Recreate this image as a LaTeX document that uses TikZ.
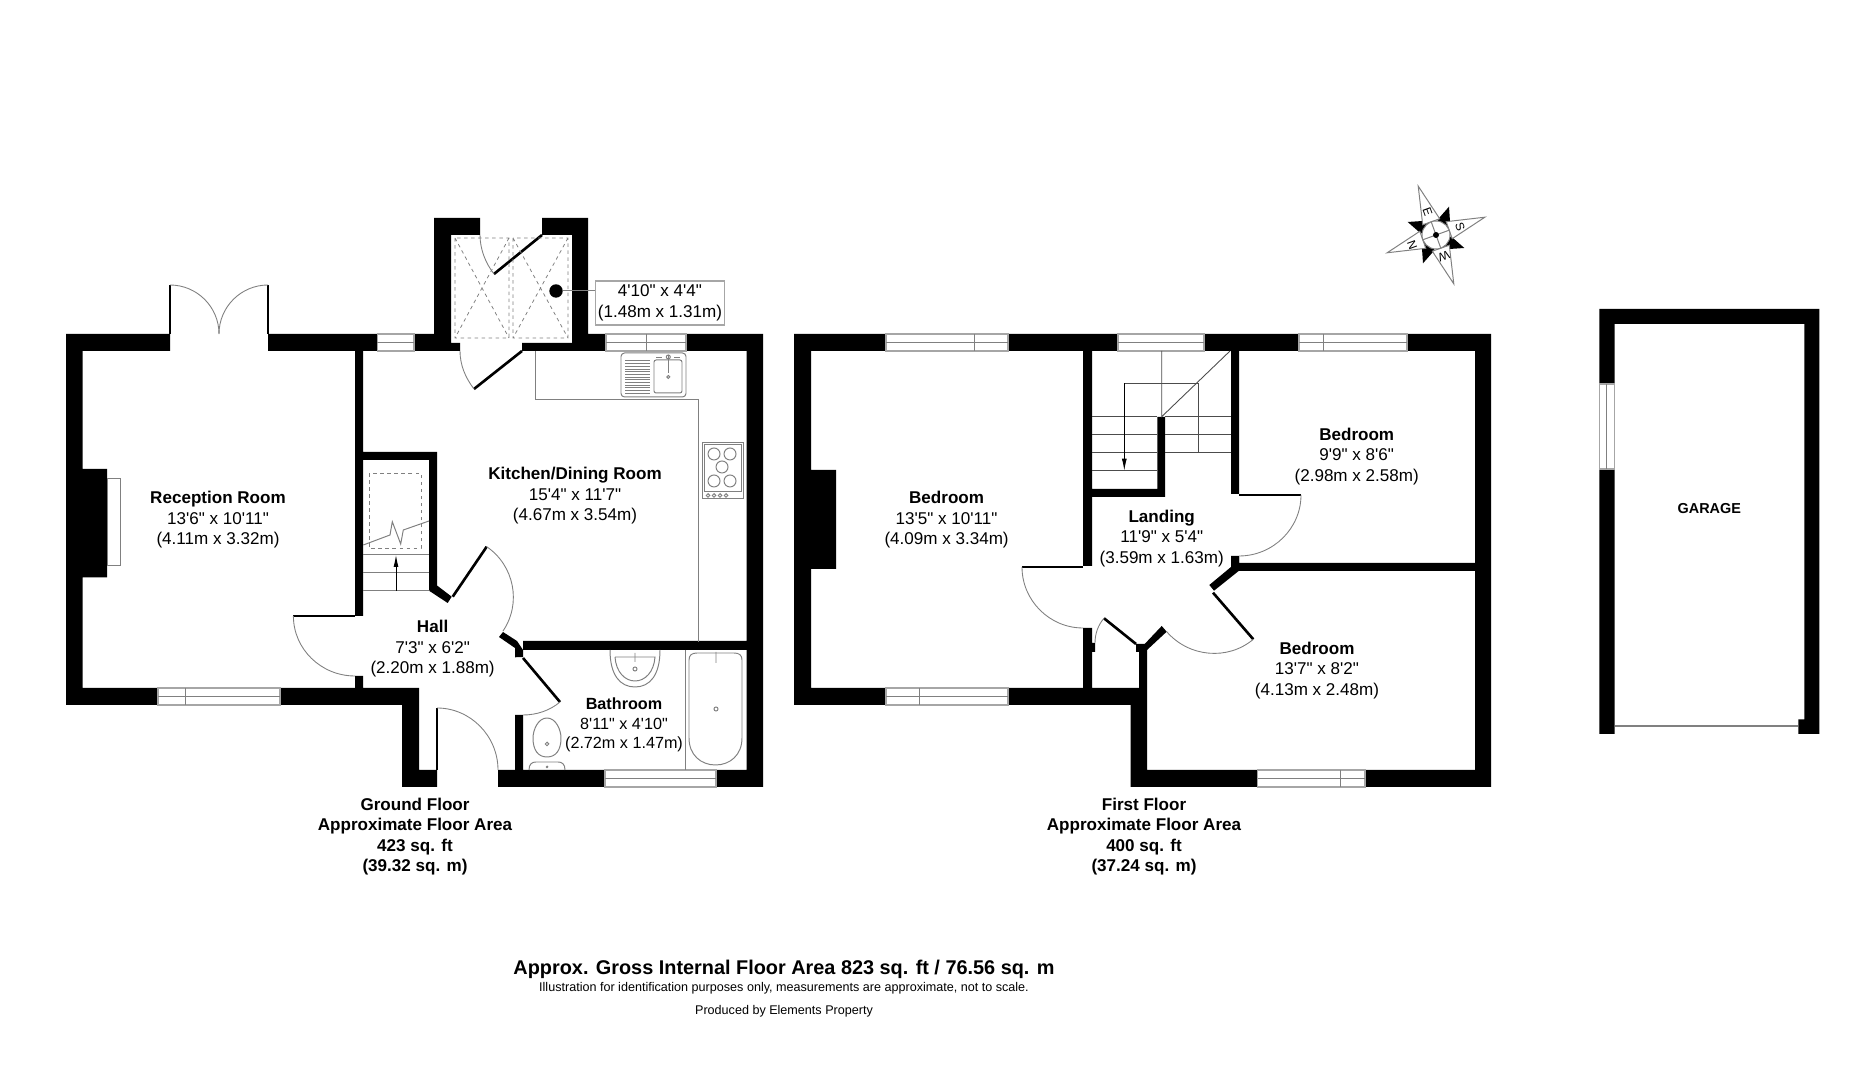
\documentclass[tikz,border=0pt]{standalone}
\usepackage{fontspec}
\setmainfont[Ligatures=TeXOff]{Liberation Sans}
\usetikzlibrary{arrows.meta}
\definecolor{linegray}{rgb}{0.5,0.5,0.5}
\definecolor{edgegray}{rgb}{0.65,0.65,0.65}
\definecolor{stairgray}{rgb}{0.3,0.3,0.3}
\tikzset{
  wall/.style={fill=black},
  wndw/.style={fill=white,draw=edgegray,line width=0.3pt},
  fitting/.style={draw=linegray,line width=0.28pt},
  stairline/.style={draw=stairgray,line width=0.25pt},
  stairarrow/.style={draw=black,line width=0.25pt,-{Latex[length=3.4pt,width=1.4pt]}},
  hidden/.style={draw=linegray,line width=0.22pt,dash pattern=on 1pt off 1pt},
  leaf/.style={draw=black,line width=0.75pt},
  swing/.style={draw=linegray,line width=0.25pt},
  room/.style={font=\fontsize{4.85}{5.85}\selectfont,align=center,inner sep=0pt},
  floornote/.style={font=\fontsize{4.85}{5.85}\selectfont\bfseries,align=center,inner sep=0pt},
  smallnote/.style={font=\fontsize{3.58}{4}\selectfont,inner sep=0pt},
  compass/.style={font=\fontsize{3.4}{4}\selectfont,inner sep=0pt}
}
\begin{document}
\begin{tikzpicture}[x=0.01cm,y=-0.01cm]
\useasboundingbox (0,0) rectangle (1869,1080);

\fill[wall] (66,334) rectangle (170,351) (268,334) rectangle (434,351) (66,334) rectangle (82.5,705)
  (66,688) rectangle (419,705) (402,688) rectangle (419,787) (402,770) rectangle (437,787)
  (498,770) rectangle (763,787) (746.5,334) rectangle (763,787) (82.5,469) rectangle (107,577.5)
  (355,351) rectangle (363,616) (355,676) rectangle (363,688) (363,452) rectangle (437,460)
  (429,452) rectangle (437,590) (523,641) rectangle (747,650) (515,715) rectangle (523,770)
  (434,218) rectangle (480,235) (434,218) rectangle (451,351) (451,343) rectangle (460,351)
  (542,218) rectangle (588,235) (572,218) rectangle (588,351) (522,343) rectangle (763,351)
  (588,334) rectangle (763,351);
\fill[wall] (429,590.7) -- (437.3,585.7) -- (451.7,596.7) -- (447.7,603) -- cycle;
\fill[wall] (503,632) -- (499,637) -- (515,648) -- (515,657.3) -- (523,657) -- (523,650) -- (517,641) -- cycle;

\draw[wndw] (377.4,334) rectangle (414,351);
\draw[fitting] (377.4,342.5) -- (414,342.5);
\draw[wndw] (606,334) rectangle (686,351);
\draw[fitting] (606,342.5) -- (686,342.5) (646,334) -- (646,351);
\draw[wndw] (158,688) rectangle (280,705);
\draw[fitting] (158,696.5) -- (280,696.5) (185,688) -- (185,705);
\draw[wndw] (605,770) rectangle (716,787);
\draw[fitting] (605,778) -- (716,778);
\draw[fitting] (107,479) rectangle (120,566);

\draw[leaf,line width=0.4pt] (170,285) -- (170,334) (268,285) -- (268,334);
\draw[swing] (170,285) .. controls (197,285) and (219,307) .. (219,334);
\draw[swing] (268,285) .. controls (241,285) and (219,307) .. (219,334);
\draw[leaf] (293.4,616) -- (355,616);
\draw[swing] (293.4,616) .. controls (293.4,649) and (321,676) .. (355,676);
\draw[leaf,line width=0.4pt] (437,708) -- (437,770);
\draw[swing] (437,708) .. controls (470.5,708) and (498,736) .. (498,770);
\draw[leaf] (452.7,596.7) -- (486.7,546.7);
\draw[swing] (486.7,546.7) .. controls (514.4,565.6) and (521.7,603.5) .. (503,631);
\draw[leaf] (523,658) -- (560,702);
\draw[swing] (560,702) .. controls (549.7,710.7) and (536.4,715) .. (523,715);
\draw[leaf] (522,351) -- (474,389);
\draw[swing] (460,351) .. controls (460,365) and (465.5,378) .. (474,389);
\draw[leaf] (542,235) -- (494,274);
\draw[swing] (480,235) .. controls (480,249) and (485.4,263) .. (494,274);

\draw[hidden] (455,238) rectangle (509,338) (455,238) -- (509,338) (509,238) -- (455,338);
\draw[hidden] (513,238) rectangle (568,338) (513,238) -- (568,338) (568,238) -- (513,338);

\draw[fitting] (535,351) -- (535,400) -- (698,400) -- (698,642);
\draw[fitting,fill=white,rounded corners=1pt] (621,353) rectangle (686,397);
\draw[fitting,rounded corners=0.6pt] (654,360) rectangle (682,393);
\foreach \ypos in {361,363.7,...,394}
  \draw[fitting] (625,\ypos) -- (650,\ypos);
\draw[fitting] (668.3,355) -- (668.3,373) (656,357.5) -- (662,357.5) (674,357.5) -- (680,357.5);
\draw[fitting] (668.3,377) circle (1.5) (668.3,357) circle (2);
\draw[fitting] (702,443) rectangle (743,499) (704.5,445) rectangle (741,492);
\draw[fitting] (714,454) circle (6) (730,454) circle (6) (722,467) circle (6) (714,481) circle (6) (730,481) circle (6);
\draw[fitting] (708,495.5) circle (1.8) (714,495.5) circle (1.8) (720,495.5) circle (1.8) (726,495.5) circle (1.8);

\draw[hidden] (369,473) rectangle (421,548);
\draw[fitting] (363,555) -- (429,555) (363,573) -- (429,573) (363,591) -- (429,591);
\draw[stairarrow] (396,591) -- (396,555);
\draw[fitting] (363.3,545) -- (390,535) -- (392.3,521.7) -- (400.7,544) -- (403.3,530) -- (429,521);

\draw[fitting] (685,650) -- (685,770);
\draw[fitting] (610,650) .. controls (610,675) and (620,687) .. (635,687) .. controls (650,687) and (660,675) .. (660,650);
\draw[fitting] (615,657) -- (655,657) .. controls (654,672) and (645,681) .. (635,681) .. controls (625,681) and (616,672) .. (615,657);
\draw[fitting] (635,653) -- (635,662) (635,669) circle (2);
\draw[fitting] (689,660) .. controls (689,655) and (692,653) .. (697,653) -- (734,653) .. controls (739,653) and (742,655) .. (742,660) -- (742,738) .. controls (742,755) and (730,765) .. (715.5,765) .. controls (701,765) and (689,755) .. (689,738) -- cycle;
\draw[fitting] (716,652) -- (716,663) (716,709) circle (2);
\draw[fitting] (547,718) .. controls (556,718) and (561,730) .. (561,738) .. controls (561,750) and (556,757) .. (547,757) .. controls (538,757) and (533,750) .. (533,738) .. controls (533,730) and (538,718) .. (547,718);
\draw[fitting] (529,770) .. controls (529,764) and (532,762) .. (536,762) -- (558,762) .. controls (562,762) and (565,764) .. (565,770);
\draw[fitting] (547,744) circle (1.8) (547,767) circle (0.8);

\node[circle,fill=black,inner sep=0pt,minimum size=0.134cm] (drain) at (556,291) {};
\node[room,draw=edgegray,line width=0.3pt,minimum width=1.28cm,minimum height=0.44cm] (showersize) at (660,303) {4'10" x 4'4"\\(1.48m x 1.31m)};
\draw[fitting] (drain) -- (drain -| showersize.west);

\node[room] (reception) at (218,520) {\textbf{Reception Room}\\13'6" x 10'11"\\(4.11m x 3.32m)};
\node[room] (kitchen) at (575,496) {\textbf{Kitchen/Dining Room}\\15'4" x 11'7"\\(4.67m x 3.54m)};
\node[room] (hall) at (432.6,649) {\textbf{Hall}\\7'3" x 6'2"\\(2.20m x 1.88m)};
\node[room,font=\fontsize{4.6}{5.55}\selectfont] (bathroom) at (624,725) {\textbf{Bathroom}\\8'11" x 4'10"\\(2.72m x 1.47m)};
\node[floornote] (groundnote) at (415,836.5) {Ground Floor\\Approximate Floor Area\\423 sq. ft\\(39.32 sq. m)};

\fill[wall] (794,334) rectangle (1491,351) (794,334) rectangle (811,705) (794,688) rectangle (1147,705)
  (1475,334) rectangle (1491,787) (1130.6,688) rectangle (1147,787) (1130.6,770) rectangle (1491,787)
  (811,470) rectangle (836,569) (1083,351) rectangle (1092,566) (1083,628) rectangle (1092,688)
  (1092,643) rectangle (1095,652) (1092,489) rectangle (1165,497) (1157.3,417) rectangle (1165,497)
  (1231,351) rectangle (1239,494) (1231,556) rectangle (1239,571) (1231,563) rectangle (1475,571)
  (1139,645) rectangle (1147,688) (1136,644) rectangle (1147,652);
\fill[wall] (1231,556.7) -- (1239,556.7) -- (1239,570.7) -- (1214,590.7) -- (1209.3,585) -- (1231,567) -- cycle;
\fill[wall] (1161.7,626) -- (1166.7,631.7) -- (1147,650) -- (1139,650) -- cycle;

\draw[wndw] (886,334) rectangle (1008,351);
\draw[fitting] (886,342.5) -- (1008,342.5) (974.4,334) -- (974.4,351);
\draw[wndw] (1118,334) rectangle (1204,351);
\draw[fitting] (1118,342.5) -- (1204,342.5);
\draw[wndw] (1299,334) rectangle (1407,351);
\draw[fitting] (1299,342.5) -- (1407,342.5) (1323.6,334) -- (1323.6,351);
\draw[wndw] (886,688) rectangle (1008,705);
\draw[fitting] (886,696.5) -- (1008,696.5) (919,688) -- (919,705);
\draw[wndw] (1257.6,770) rectangle (1365,787);
\draw[fitting] (1257.6,778.5) -- (1365,778.5) (1340,770) -- (1340,787);

\draw[leaf] (1022,567) -- (1083,567);
\draw[swing] (1022,567) .. controls (1022,600.5) and (1049.5,628) .. (1083,628);
\draw[leaf] (1239,495) -- (1301,495);
\draw[swing] (1301,495) .. controls (1301,528.5) and (1273,556) .. (1239,556);
\draw[leaf] (1213,592.7) -- (1253.3,639.3);
\draw[swing] (1253.3,639.3) .. controls (1227.8,660.8) and (1188.9,657.3) .. (1166.7,631.7);
\draw[leaf] (1104,618.3) -- (1136,644);
\draw[swing] (1095,643) .. controls (1095,634) and (1098,625) .. (1104,618.3);

\draw[stairline] (1092,416.7) -- (1157,416.7) (1092,434.3) -- (1157,434.3) (1092,452.3) -- (1157,452.3) (1092,470.7) -- (1157,470.7);
\draw[stairline] (1165,416.7) -- (1231,416.7) (1165,434.3) -- (1231,434.3) (1165,452.3) -- (1231,452.3);
\draw[stairline] (1161.7,351) -- (1161.7,416.7) -- (1230,351);
\draw[stairline] (1198.3,452.3) -- (1198.3,383.3) -- (1124.3,383.3);
\draw[stairarrow] (1124.3,383.3) -- (1124.3,470.7);

\node[room] (bedroomone) at (946.6,520) {\textbf{Bedroom}\\13'5" x 10'11"\\(4.09m x 3.34m)};
\node[room] (landing) at (1161.7,538.5) {\textbf{Landing}\\11'9" x 5'4"\\(3.59m x 1.63m)};
\node[room] (bedroomtwo) at (1356.7,456.5) {\textbf{Bedroom}\\9'9" x 8'6"\\(2.98m x 2.58m)};
\node[room] (bedroomthree) at (1317,670.5) {\textbf{Bedroom}\\13'7" x 8'2"\\(4.13m x 2.48m)};
\node[floornote] (firstnote) at (1144,836.5) {First Floor\\Approximate Floor Area\\400 sq. ft\\(37.24 sq. m)};

\fill[black] (1449,206.7) -- (1437.3,220) -- (1450.7,231.7) -- cycle;
\fill[black] (1464.3,248) -- (1451,236.3) -- (1439.3,249.7) -- cycle;
\fill[black] (1423,263.3) -- (1434.7,250) -- (1421.3,238.3) -- cycle;
\fill[black] (1407.7,222) -- (1421,233.7) -- (1432.7,220.3) -- cycle;
\draw[fitting,fill=white] (1418.2,186.1) -- (1439.7,218.8) -- (1422.7,224.8) -- cycle;
\draw[fitting,fill=white] (1484.9,217.2) -- (1452.2,238.7) -- (1446.2,221.7) -- cycle;
\draw[fitting,fill=white] (1453.8,283.9) -- (1432.3,251.2) -- (1449.3,245.2) -- cycle;
\draw[fitting,fill=white] (1387.1,252.8) -- (1419.8,231.3) -- (1425.8,248.3) -- cycle;
\draw[fitting,fill=white] (1436,235) circle (14);
\draw[fitting] (1431.2,221.8) -- (1440.8,248.2) (1422.8,239.8) -- (1449.2,230.2);
\fill[black] (1436,235) circle (3);
\node[compass,rotate=-70] (east) at (1427.7,211.7) {E};
\node[compass,rotate=-70] (south) at (1460,226.7) {S};
\node[compass,rotate=200] (west) at (1444,256) {W};
\node[compass,rotate=-70] (north) at (1412.3,245) {N};

\fill[wall] (1599.3,309) rectangle (1819.3,324) (1599.3,309) rectangle (1614.7,734)
  (1804.3,309) rectangle (1819.3,734) (1798.3,719.3) rectangle (1804.3,734);
\draw[wndw] (1599.3,384) rectangle (1614.7,469);
\draw[fitting] (1606.7,384) -- (1606.7,469);
\draw[draw=linegray,line width=0.5pt] (1614.7,726) -- (1798.3,726);
\node[font=\fontsize{4.1}{5}\selectfont\bfseries,inner sep=0pt] (garage) at (1709.3,508.3) {GARAGE};

\node[font=\fontsize{5.65}{7}\selectfont\bfseries,inner sep=0pt] (grossarea) at (784,969.5) {Approx. Gross Internal Floor Area 823 sq. ft / 76.56 sq. m};
\node[smallnote] (disclaimer) at (784,988.5) {Illustration for identification purposes only, measurements are approximate, not to scale.};
\node[smallnote] (producer) at (784,1011.5) {Produced by Elements Property};
\end{tikzpicture}
\end{document}
